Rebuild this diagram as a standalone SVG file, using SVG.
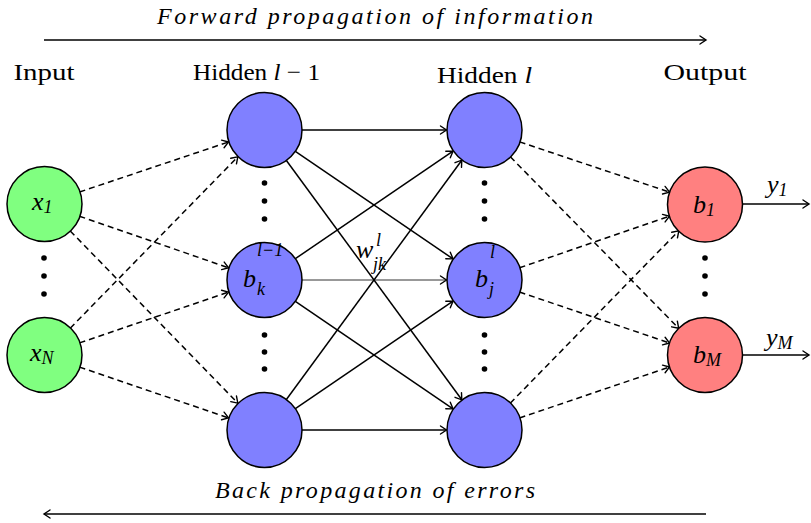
<svg xmlns="http://www.w3.org/2000/svg" width="811" height="523" viewBox="0 0 811 523">
<defs>
<marker id="ah" markerUnits="userSpaceOnUse" markerWidth="12" markerHeight="12" refX="0" refY="0" viewBox="-8 -6 10 12" orient="auto" overflow="visible">
<path d="M-6,-4 Q-1.5,-1 0,0 Q-1.5,1 -6,4" fill="none" stroke="#000" stroke-width="1.4" stroke-linecap="round"/>
</marker>
</defs>

<g id="titles">
<text font-family="Liberation Serif, Times New Roman, DejaVu Serif, serif" font-size="24" font-style="italic" x="375" y="24" text-anchor="middle" textLength="436" lengthAdjust="spacing">Forward propagation of information</text>
<text font-family="Liberation Serif, Times New Roman, DejaVu Serif, serif" font-size="24" font-style="italic" x="375" y="498" text-anchor="middle" textLength="320" lengthAdjust="spacing">Back propagation of errors</text>
<text font-family="Liberation Serif, Times New Roman, DejaVu Serif, serif" font-size="24" x="44" y="80" text-anchor="middle" textLength="61" lengthAdjust="spacingAndGlyphs">Input</text>
<text font-family="Liberation Serif, Times New Roman, DejaVu Serif, serif" font-size="24" x="193" y="80" textLength="127" lengthAdjust="spacingAndGlyphs">Hidden <tspan font-style="italic">l</tspan> − 1</text>
<text font-family="Liberation Serif, Times New Roman, DejaVu Serif, serif" font-size="24" x="437" y="83" textLength="95" lengthAdjust="spacingAndGlyphs">Hidden <tspan font-style="italic">l</tspan></text>
<text font-family="Liberation Serif, Times New Roman, DejaVu Serif, serif" font-size="24" x="705" y="80" text-anchor="middle" textLength="83" lengthAdjust="spacingAndGlyphs">Output</text>
</g>

<g id="connectors" stroke="#000" stroke-width="1.5" fill="none" marker-end="url(#ah)">
<line x1="44" y1="40" x2="706" y2="40"/>
<line x1="706" y1="514" x2="44" y2="514"/>
<g stroke-dasharray="6 4">
<line x1="79.5" y1="192" x2="228.5" y2="142"/>
<line x1="79.4" y1="216.2" x2="228.6" y2="267.8"/>
<line x1="70.2" y1="230.9" x2="237.8" y2="403.1"/>
<line x1="70.2" y1="328.2" x2="237.8" y2="156.8"/>
<line x1="79.5" y1="342.9" x2="228.5" y2="292.1"/>
<line x1="79.5" y1="367.1" x2="228.5" y2="417.9"/>
<line x1="519.6" y1="141.9" x2="669.5" y2="192.1"/>
<line x1="510.3" y1="156.8" x2="678.7" y2="328.3"/>
<line x1="519.5" y1="267.8" x2="669.5" y2="216.2"/>
<line x1="519.5" y1="292" x2="669.5" y2="343"/>
<line x1="510.2" y1="403.2" x2="678.8" y2="230.8"/>
<line x1="519.5" y1="418" x2="669.5" y2="367"/>
</g>
<line x1="301.5" y1="130" x2="446.5" y2="130"/>
<line x1="301.5" y1="280" x2="446.5" y2="280" stroke-width="1" stroke="#333"/>
<line x1="301.5" y1="430" x2="446.5" y2="430"/>
<line x1="295" y1="151.1" x2="453" y2="258.9"/>
<line x1="295" y1="301.1" x2="453" y2="408.9"/>
<line x1="295" y1="258.9" x2="453" y2="151.1"/>
<line x1="295" y1="408.9" x2="453" y2="301.1"/>
<line x1="286.2" y1="160.2" x2="461.8" y2="399.8"/>
<line x1="286.2" y1="399.8" x2="461.8" y2="160.2"/>
<line x1="742.5" y1="204" x2="809" y2="204"/>
<line x1="742.5" y1="355" x2="809" y2="355"/>
</g>

<g id="edge-labels">
<text font-family="Liberation Serif, Times New Roman, DejaVu Serif, serif" font-size="26" font-style="italic" x="767" y="193">y<tspan font-size="18" dy="3">1</tspan></text>
<text font-family="Liberation Serif, Times New Roman, DejaVu Serif, serif" font-size="26" font-style="italic" x="766" y="346">y<tspan font-size="18" dy="3">M</tspan></text>
<text font-family="Liberation Serif, Times New Roman, DejaVu Serif, serif" font-size="26" font-style="italic" x="356" y="258">w<tspan font-size="18" x="376" y="246">l</tspan><tspan font-size="18" x="373" y="270">jk</tspan></text>
</g>

<g id="dots" fill="#000">
<circle cx="44" cy="258" r="2.8"/><circle cx="44" cy="276" r="2.8"/><circle cx="44" cy="294" r="2.8"/>
<circle cx="264.5" cy="183" r="2.8"/><circle cx="264.5" cy="201" r="2.8"/><circle cx="264.5" cy="219" r="2.8"/>
<circle cx="264.5" cy="335" r="2.8"/><circle cx="264.5" cy="352" r="2.8"/><circle cx="264.5" cy="369" r="2.8"/>
<circle cx="484.5" cy="183" r="2.8"/><circle cx="484.5" cy="201" r="2.8"/><circle cx="484.5" cy="219" r="2.8"/>
<circle cx="484.5" cy="335" r="2.8"/><circle cx="484.5" cy="352" r="2.8"/><circle cx="484.5" cy="369" r="2.8"/>
<circle cx="705" cy="258" r="2.8"/><circle cx="705" cy="276" r="2.8"/><circle cx="705" cy="294" r="2.8"/>
</g>

<g id="input-x1"><circle fill="#80ff80" stroke="#000" stroke-width="1.5" cx="44.5" cy="204" r="37.5"/><text font-family="Liberation Serif, Times New Roman, DejaVu Serif, serif" font-size="26" font-style="italic" x="32" y="210">x<tspan font-size="18" dy="3">1</tspan></text></g>
<g id="input-xN"><circle fill="#80ff80" stroke="#000" stroke-width="1.5" cx="44.5" cy="355" r="37.5"/><text font-family="Liberation Serif, Times New Roman, DejaVu Serif, serif" font-size="26" font-style="italic" x="30" y="361">x<tspan font-size="18" dy="3">N</tspan></text></g>

<g id="h1-top"><circle fill="#8080ff" stroke="#000" stroke-width="1.5" cx="264.5" cy="130" r="37.5"/></g>
<g id="h1-mid"><circle fill="#8080ff" stroke="#000" stroke-width="1.5" cx="264.5" cy="280" r="37.5"/><text font-family="Liberation Serif, Times New Roman, DejaVu Serif, serif" font-size="26" font-style="italic" x="243" y="287">b<tspan font-size="18" x="257" y="295">k</tspan><tspan font-size="18" x="257" y="256">l−1</tspan></text></g>
<g id="h1-bot"><circle fill="#8080ff" stroke="#000" stroke-width="1.5" cx="264.5" cy="430" r="37.5"/></g>

<g id="h2-top"><circle fill="#8080ff" stroke="#000" stroke-width="1.5" cx="484.5" cy="130" r="37.5"/></g>
<g id="h2-mid"><circle fill="#8080ff" stroke="#000" stroke-width="1.5" cx="484.5" cy="280" r="37.5"/><text font-family="Liberation Serif, Times New Roman, DejaVu Serif, serif" font-size="26" font-style="italic" x="475" y="287">b<tspan font-size="18" x="489" y="295">j</tspan><tspan font-size="18" x="490" y="258">l</tspan></text></g>
<g id="h2-bot"><circle fill="#8080ff" stroke="#000" stroke-width="1.5" cx="484.5" cy="430" r="37.5"/></g>

<g id="out-b1"><circle fill="#ff8080" stroke="#000" stroke-width="1.5" cx="705" cy="204.5" r="37.5"/><text font-family="Liberation Serif, Times New Roman, DejaVu Serif, serif" font-size="26" font-style="italic" x="693" y="213">b<tspan font-size="18" dy="3">1</tspan></text></g>
<g id="out-bM"><circle fill="#ff8080" stroke="#000" stroke-width="1.5" cx="705" cy="355" r="37.5"/><text font-family="Liberation Serif, Times New Roman, DejaVu Serif, serif" font-size="26" font-style="italic" x="693" y="363">b<tspan font-size="18" dy="3">M</tspan></text></g>
</svg>
